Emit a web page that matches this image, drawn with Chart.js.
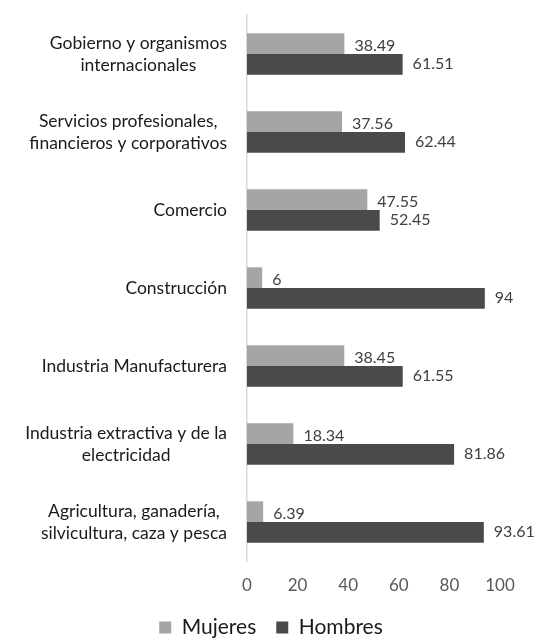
<!DOCTYPE html>
<html>
<head>
<meta charset="utf-8">
<script src="https://cdn.jsdelivr.net/npm/chart.js@4.4.1/dist/chart.umd.min.js"></script>
<style>
  html, body { margin: 0; padding: 0; background: #fff; }
  #wrap { width: 534px; height: 639px; position: relative; }
</style>
</head>
<body>
<div id="wrap"><canvas id="grafico"></canvas></div>
<script>
// Datos del gráfico (de arriba hacia abajo)
const categorias = [
  ['Gobierno y organismos', 'internacionales'],
  ['Servicios profesionales,', 'financieros y corporativos'],
  ['Comercio'],
  ['Construcción'],
  ['Industria Manufacturera'],
  ['Industria extractiva y de la', 'electricidad'],
  ['Agricultura, ganadería,', 'silvicultura, caza y pesca']
];
const mujeres = [38.49, 37.56, 47.55, 6, 38.45, 18.34, 6.39];
const hombres = [61.51, 62.44, 52.45, 94, 61.55, 81.86, 93.61];
const ticksX = [0, 20, 40, 60, 80, 100];

const fuente = 'Lato, "Open Sans", sans-serif';

// Etiquetas de categoría: bloque alineado a la derecha, líneas centradas
const etiquetasCategoria = {
  id: 'etiquetasCategoria',
  afterDraw(chart) {
    const ctx = chart.ctx;
    const y = chart.scales.y;
    ctx.save();
    ctx.font = '17.5px ' + fuente;
    ctx.fillStyle = '#1a1a1a';
    ctx.textAlign = 'center';
    ctx.textBaseline = 'middle';
    const derecha = chart.chartArea.left - 20;
    const alto = 22;
    categorias.forEach((lineas, i) => {
      const cy = y.getPixelForValue(i);
      const ancho = Math.max(...lineas.map(l => ctx.measureText(l).width));
      const cx = derecha - ancho / 2;
      lineas.forEach((l, j) => {
        ctx.fillText(l, cx, cy + (j - (lineas.length - 1) / 2) * alto);
      });
    });
    ctx.restore();
  }
};

// Valores al final de cada barra
const valoresBarras = {
  id: 'valoresBarras',
  afterDatasetsDraw(chart) {
    const ctx = chart.ctx;
    ctx.save();
    ctx.font = '16px ' + fuente;
    ctx.fillStyle = '#404040';
    ctx.textAlign = 'left';
    ctx.textBaseline = 'middle';
    chart.data.datasets.forEach((ds, d) => {
      chart.getDatasetMeta(d).data.forEach((bar, i) => {
        ctx.fillText(String(ds.data[i]), bar.x + 10, bar.y + (d === 0 ? 2 : 0));
      });
    });
    ctx.restore();
  }
};

new Chart(document.getElementById('grafico'), {
  type: 'bar',
  data: {
    labels: categorias,
    datasets: [
      { label: 'Mujeres', data: mujeres, backgroundColor: '#A5A5A5', borderWidth: 0,
        categoryPercentage: 0.53, barPercentage: 1 },
      { label: 'Hombres', data: hombres, backgroundColor: '#4A4A4A', borderWidth: 0,
        categoryPercentage: 0.53, barPercentage: 1 }
    ]
  },
  options: {
    indexAxis: 'y',
    responsive: true,
    maintainAspectRatio: false,
    animation: false,
    layout: { padding: { top: 15, right: 34, bottom: -9, left: 42 } },
    scales: {
      x: {
        min: 0, max: 100,
        afterBuildTicks(scale) { scale.ticks = ticksX.map(v => ({ value: v })); },
        afterFit(scale) { scale.height = 36; },
        grid: { display: false, drawTicks: false },
        border: { display: false },
        ticks: { color: '#595959', font: { family: fuente, size: 17 }, padding: 14 }
      },
      y: {
        grid: { display: false, drawTicks: false },
        border: { display: true, color: '#D9D9D9', width: 1.5 },
        ticks: { display: false },
        afterFit(scale) { scale.width = 205; }
      }
    },
    plugins: {
      legend: {
        position: 'bottom',
        labels: {
          boxWidth: 12, boxHeight: 12, padding: 20,
          color: '#1a1a1a', font: { family: fuente, size: 21 }
        }
      },
      tooltip: { enabled: false }
    }
  },
  plugins: [etiquetasCategoria, valoresBarras]
});
</script>
</body>
</html>
